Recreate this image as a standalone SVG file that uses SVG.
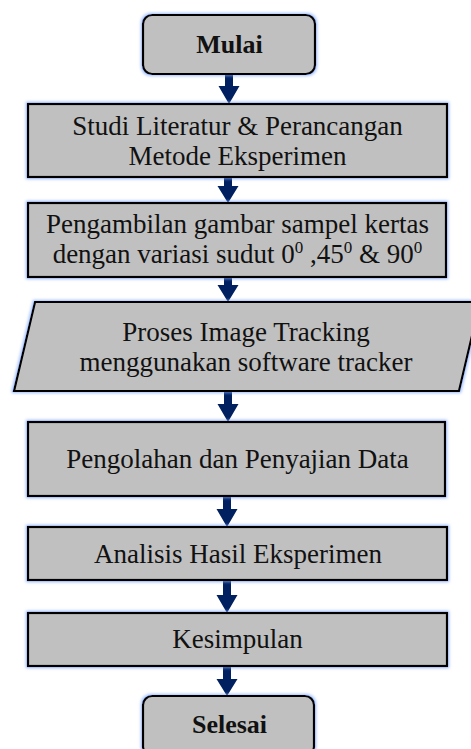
<svg xmlns="http://www.w3.org/2000/svg" width="471" height="749" viewBox="0 0 471 749">
<defs>
<style>
.box{fill:#c0c0c0;stroke:#000;stroke-width:2.2;filter:url(#glow)}
.t{font-family:"Liberation Serif","Times New Roman",serif;font-size:27px;fill:#111;text-anchor:middle}
.b{font-family:"Liberation Serif","Times New Roman",serif;font-size:26px;font-weight:bold;fill:#111;text-anchor:middle}
.arr{fill:#002060}
.sup{font-size:17px}
</style>
<filter id="glow" x="-10%" y="-20%" width="120%" height="140%">
<feMorphology in="SourceAlpha" operator="dilate" radius="1" result="d"/>
<feGaussianBlur in="d" stdDeviation="1.4" result="b"/>
<feFlood flood-color="#7aa5ff" flood-opacity="0.75"/>
<feComposite in2="b" operator="in" result="g"/>
<feMerge><feMergeNode in="g"/><feMergeNode in="SourceGraphic"/></feMerge>
</filter>
</defs>
<rect width="471" height="749" fill="#fff"/>
<g id="connectors">
<path class="arr" d="M225,74 H233 V86 H239.5 L229,104 L218.5,86 H225 Z"/>
<path class="arr" d="M224,177 H232 V186 H238.5 L228,203 L217.5,186 H224 Z"/>
<path class="arr" d="M224,277 H232 V285 H238.5 L228,302 L217.5,285 H224 Z"/>
<path class="arr" d="M224,391 H232 V404 H238.5 L228,422 L217.5,404 H224 Z"/>
<path class="arr" d="M223,496 H231 V509 H237.5 L227,527 L216.5,509 H223 Z"/>
<path class="arr" d="M223,580 H231 V595 H237.5 L227,613 L216.5,595 H223 Z"/>
<path class="arr" d="M223,666 H231 V679 H237.5 L227,696 L216.5,679 H223 Z"/>
</g>
<g id="mulai">
<rect class="box" x="143" y="15" width="172" height="59" rx="9"/>
<text class="b" x="229.5" y="53">Mulai</text>
</g>
<g id="studi">
<rect class="box" x="28" y="104" width="419" height="73"/>
<text class="t" x="237.5" y="135">Studi Literatur &amp; Perancangan</text>
<text class="t" x="237.5" y="165">Metode Eksperimen</text>
</g>
<g id="pengambilan">
<rect class="box" x="28" y="203" width="418" height="74"/>
<text class="t" x="237.5" y="233">Pengambilan gambar sampel kertas</text>
<text class="t" x="237.5" y="263">dengan variasi sudut 0<tspan class="sup" dy="-10">0</tspan><tspan dy="10"> ,45</tspan><tspan class="sup" dy="-10">0</tspan><tspan dy="10"> &amp; 90</tspan><tspan class="sup" dy="-10">0</tspan></text>
</g>
<g id="proses">
<polygon class="box" points="35,302 480,302 459,391 14,391"/>
<text class="t" x="246" y="341">Proses Image Tracking</text>
<text class="t" x="246" y="371">menggunakan software tracker</text>
</g>
<g id="pengolahan">
<rect class="box" x="28" y="422" width="417" height="74"/>
<text class="t" x="237.5" y="468">Pengolahan dan Penyajian Data</text>
</g>
<g id="analisis">
<rect class="box" x="28" y="527" width="419" height="53"/>
<text class="t" x="238" y="563">Analisis Hasil Eksperimen</text>
</g>
<g id="kesimpulan">
<rect class="box" x="28" y="613" width="419" height="53"/>
<text class="t" x="237.5" y="648">Kesimpulan</text>
</g>
<g id="selesai">
<rect class="box" x="143" y="696" width="171" height="60" rx="9"/>
<text class="b" x="229.5" y="733">Selesai</text>
</g>
</svg>
